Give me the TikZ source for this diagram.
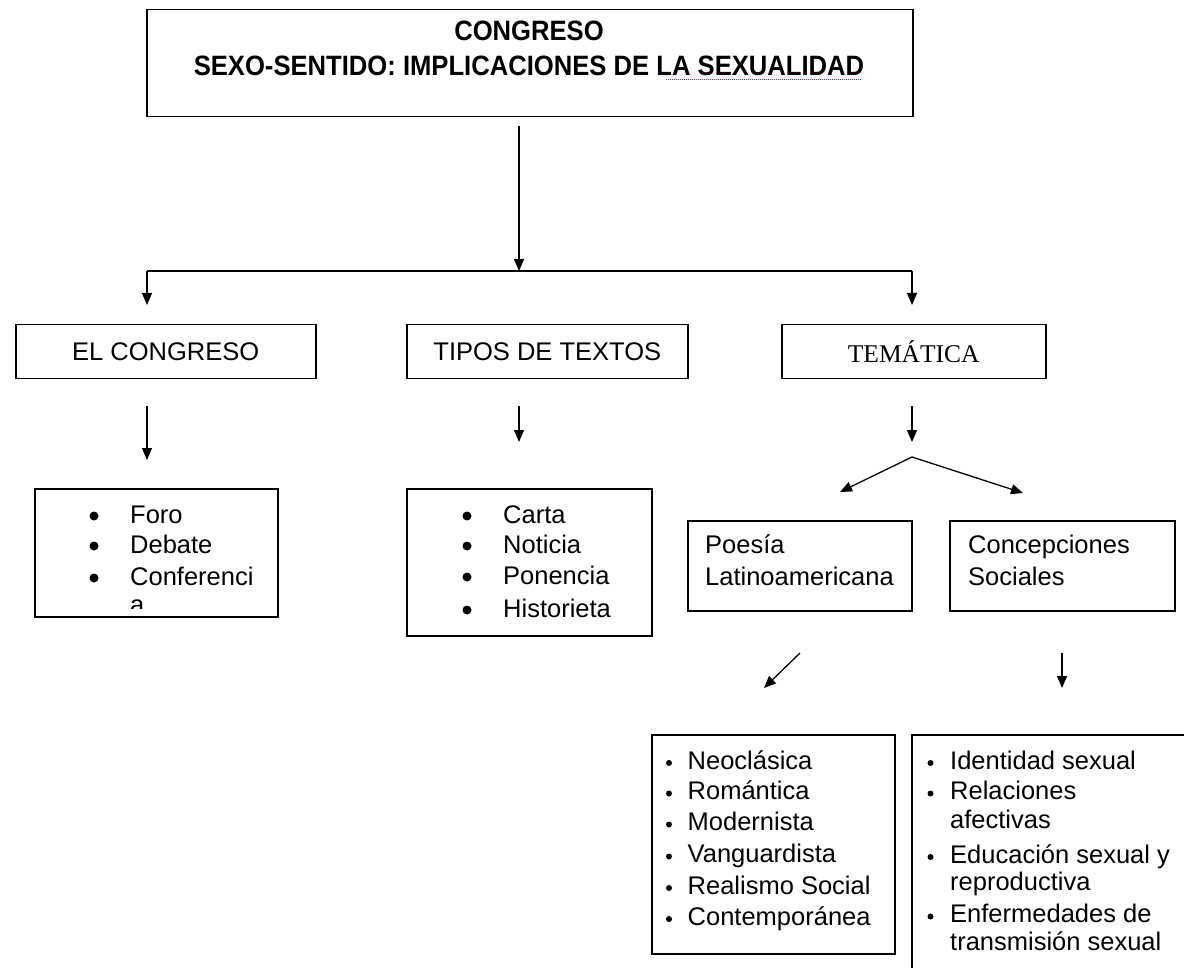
\documentclass[tikz,border=0pt]{standalone}
\usepackage{fontspec}
\setmainfont{Liberation Sans}
\newfontfamily\titlefont[FakeStretch=0.915]{Liberation Sans}
\newfontfamily\seriffont{Liberation Serif}
\usetikzlibrary{arrows.meta}

\tikzset{
  box/.style={draw, line width=1.5pt, inner sep=0pt, anchor=north west, font=\fontsize{25.5}{28}\selectfont},
  arr/.style={line width=1.3pt, -{Triangle[length=12pt,width=10pt]}},
  item/.style={anchor=base west, inner sep=0pt, font=\fontsize{25.5}{28}\selectfont},
  ttl/.style={anchor=base, inner sep=0pt, font=\titlefont\bfseries\fontsize{28}{30}\selectfont},
}

\begin{document}
\begin{tikzpicture}[x=1pt, y=-1pt]
\useasboundingbox (0,0) rectangle (1184,968);
\clip (0,0) rectangle (1184,968);

% title box
\node[box, minimum width=766pt, minimum height=107pt] (title) at (146,9) {};
\node[ttl] (ttl1) at (529,41) {CONGRESO};
\node[ttl] (ttl2) at (529,76) {SEXO-SENTIDO: IMPLICACIONES DE LA SEXUALIDAD};
\draw[magenta, densely dotted, line width=1pt] (666,80) -- (862,80);

% first level
\coordinate (top) at (519,126);
\coordinate (hub) at (519,271);
\coordinate (hubL) at (147,271);
\coordinate (hubR) at (912,271);
\draw[arr] (top) -- (hub);
\draw[line width=1.3pt] (hubL) -- (hubR);
\draw[arr] (hubL) -- ++(0,34);
\draw[arr] (hubR) -- ++(0,34);

\node[box, minimum width=300pt, minimum height=54pt] (congreso) at (15,324) {EL CONGRESO};
\node[box, minimum width=281pt, minimum height=54pt] (tipos) at (406,324) {TIPOS DE TEXTOS};
\node[box, minimum width=264pt, minimum height=54pt, font=\seriffont\fontsize{25.5}{28}\selectfont] (tematica) at (781,324) {TEMÁTICA};

% arrows under the row
\coordinate (c1) at (147,406);
\coordinate (c2) at (519,406);
\coordinate (c3) at (912,406);
\draw[arr] (c1) -- ++(0,54);
\draw[arr] (c2) -- ++(0,36);
\draw[arr] (c3) -- ++(0,36);

% lists
\node[box, minimum width=243pt, minimum height=128pt] (congresolist) at (34,488) {};
\foreach \y/\t [count=\i] in {523/Foro, 553/Debate, 585/Conferenci}{
  \fill (94,\y-7) circle (4.5pt);
  \node[item] (congreso\i) at (130,\y) {\t};
}
\begin{scope}
  \clip (congresolist.north west) rectangle ([yshift=9pt]congresolist.south east);
  \node[item] (congresoa) at (130,613) {a};
\end{scope}

\node[box, minimum width=245pt, minimum height=147pt] (tiposlist) at (406,488) {};
\foreach \y/\t [count=\i] in {523/Carta, 553/Noticia, 584/Ponencia, 617/Historieta}{
  \fill (467,\y-7) circle (4.5pt);
  \node[item] (tipos\i) at (503,\y) {\t};
}

% tematica split
\coordinate (split) at (912,457);
\coordinate (splitL) at (840,492);
\coordinate (splitR) at (1023,493);
\draw[arr] (split) -- (splitL);
\draw[arr] (split) -- (splitR);

\node[box, minimum width=224pt, minimum height=90pt] (poesia) at (687,520) {};
\node[item] (poesia1) at (705,553) {Poesía};
\node[item] (poesia2) at (705,585) {Latinoamericana};
\node[box, minimum width=225pt, minimum height=90pt] (concep) at (949,520) {};
\node[item] (concep1) at (968,553) {Concepciones};
\node[item] (concep2) at (968,585) {Sociales};

\coordinate (d1) at (800,653);
\coordinate (d2) at (764,688);
\coordinate (e1) at (1062,653);
\draw[arr] (d1) -- (d2);
\draw[arr] (e1) -- ++(0,35);

% bottom boxes
\node[box, minimum width=243pt, minimum height=219pt] (corrientes) at (651,734) {};
\foreach \y/\t [count=\i] in {769/Neoclásica, 799.5/Romántica, 830.5/Modernista, 862.5/Vanguardista, 894/Realismo Social, 925/Contemporánea}{
  \fill (669,\y-6) circle (3pt);
  \node[item] (corr\i) at (687.5,\y) {\t};
}

\node[box, minimum width=300pt, minimum height=300pt] (temas) at (911,734) {};
\foreach \y/\t/\b [count=\i] in {769/Identidad sexual/1, 799.5/Relaciones/1, 828/afectivas/0, 863/Educación sexual y/1, 890/reproductiva/0, 922.5/Enfermedades de/1, 950/transmisión sexual/0}{
  \ifnum\b=1 \fill (930.5,\y-6) circle (3pt); \fi
  \node[item] (tema\i) at (950,\y) {\t};
}
\end{tikzpicture}
\end{document}
